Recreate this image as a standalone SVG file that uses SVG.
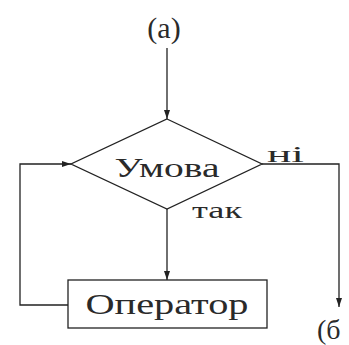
<svg xmlns="http://www.w3.org/2000/svg" width="349" height="345" viewBox="0 0 349 345">
  <style>
    .ln { fill: none; stroke: #222; stroke-width: 1.3; }
    .shape { fill: #fff; stroke: #222; stroke-width: 1.3; }
    .lbl { font-family: "Liberation Serif", "DejaVu Serif", serif; fill: #2a2a2a; }
  </style>
  <defs>
    <marker id="arr" viewBox="0 0 9 6" refX="9" refY="3" markerWidth="9" markerHeight="6" markerUnits="userSpaceOnUse" orient="auto">
      <path d="M0,0 L9,3 L0,6 Z" fill="#222"/>
    </marker>
  </defs>
  <rect width="349" height="345" fill="#fff"/>

  <g id="connectors">
    <!-- entry (a) into condition -->
    <line class="ln" x1="167" y1="48" x2="167" y2="119" marker-end="url(#arr)"/>
    <!-- yes branch: condition to operator -->
    <line class="ln" x1="167" y1="209" x2="167" y2="280" marker-end="url(#arr)"/>
    <!-- no branch: condition to exit (б) -->
    <polyline class="ln" points="262,164 339,164 339,307" marker-end="url(#arr)"/>
    <!-- loop back: operator to condition -->
    <polyline class="ln" points="68,305 20,305 20,164 71,164" marker-end="url(#arr)"/>
  </g>

  <g id="start">
    <text class="lbl" x="164" y="38" font-size="30" text-anchor="middle">(a)</text>
  </g>

  <g id="condition">
    <polygon class="shape" points="167,119 262,164 167,209 71,164"/>
    <text class="lbl" x="167" y="177" font-size="27" text-anchor="middle" textLength="105" lengthAdjust="spacingAndGlyphs">Умова</text>
  </g>

  <g id="labels">
    <text class="lbl" x="267" y="162" font-size="24" textLength="37" lengthAdjust="spacingAndGlyphs">ні</text>
    <text class="lbl" x="192" y="218" font-size="24" textLength="50" lengthAdjust="spacingAndGlyphs">так</text>
  </g>

  <g id="operator">
    <rect class="shape" x="68" y="280" width="199" height="48"/>
    <text class="lbl" x="167" y="314" font-size="30" text-anchor="middle" textLength="163" lengthAdjust="spacingAndGlyphs">Оператор</text>
  </g>

  <g id="end">
    <text class="lbl" x="317" y="339" font-size="28">(б</text>
  </g>
</svg>
